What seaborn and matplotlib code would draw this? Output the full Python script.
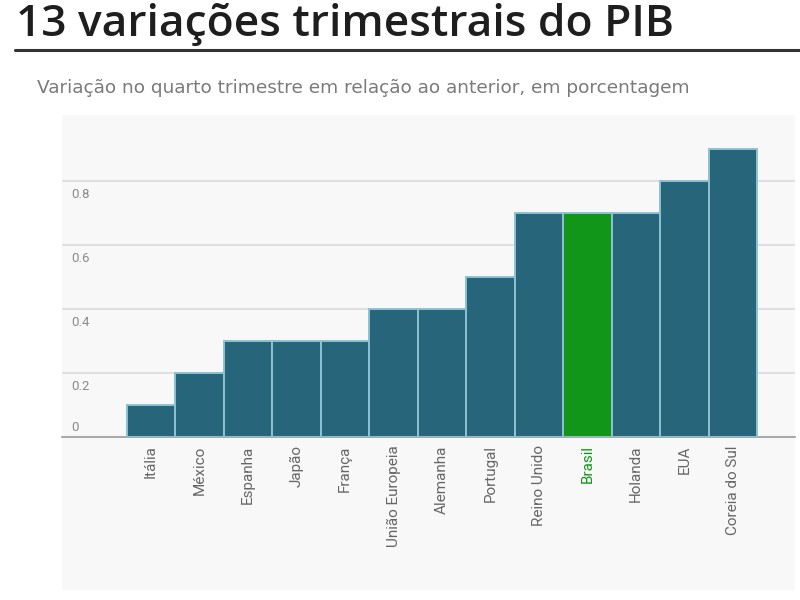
import matplotlib
matplotlib.use("Agg")
import matplotlib.pyplot as plt
import matplotlib.transforms as mtransforms
from matplotlib import font_manager
import seaborn as sns
import pandas as pd

paises = ["Itália", "México", "Espanha", "Japão", "França", "União Europeia",
          "Alemanha", "Portugal", "Reino Unido", "Brasil", "Holanda", "EUA",
          "Coreia do Sul"]
variacao = [0.1, 0.2, 0.3, 0.3, 0.3, 0.4, 0.4, 0.5, 0.7, 0.7, 0.7, 0.8, 0.9]
y_ticks = [0.2, 0.4, 0.6, 0.8]
y_tick_labels = ["0.2", "0.4", "0.6", "0.8"]
destaque = "Brasil"

titulo = "13 variações trimestrais do PIB"
subtitulo = "Variação no quarto trimestre em relação ao anterior, em porcentagem"

cor_barra = "#27657a"
cor_destaque = "#12961a"

nomes = {f.name for f in font_manager.fontManager.ttflist}
fonte_estreita = "Liberation Sans Narrow" if "Liberation Sans Narrow" in nomes else "Roboto"

sns.set_theme(style="white")
plt.rcParams["font.family"] = ["Open Sans", "DejaVu Sans"]

df = pd.DataFrame({"pais": paises, "valor": variacao})
cores = {p: (cor_destaque if p == destaque else cor_barra) for p in paises}

fig = plt.figure(figsize=(8, 6), dpi=100)
fig.patch.set_facecolor("white")

# light panel
panel = plt.Rectangle((62 / 800, 10 / 600), (795 - 62) / 800, (485 - 10) / 600,
                      transform=fig.transFigure, facecolor="#f8f8f8",
                      edgecolor="none", zorder=-5)
fig.patches.append(panel)

ax = fig.add_axes([62 / 800, 163 / 600, (795 - 62) / 800, (437 - 120) / 600])
ax.set_zorder(2)
ax.set_facecolor("#f8f8f8")
sns.barplot(data=df, x="pais", y="valor", hue="pais", palette=cores,
            saturation=1, width=1.0, edgecolor="#8cc2d2", linewidth=1.4,
            legend=False, ax=ax, zorder=3)

ax.set_xlim(-1.835, 13.28)
ax.set_ylim(0, 0.99)
ax.set_yticks(y_ticks)
ax.set_yticklabels([])
ax.tick_params(axis="y", length=0)
ax.grid(axis="y", color="#dcdcdc", linewidth=1.2, zorder=0)
ax.set_axisbelow(True)
for s in ["top", "right", "left"]:
    ax.spines[s].set_visible(False)
ax.spines["bottom"].set_color("#9a9a9a")
ax.spines["bottom"].set_linewidth(1.2)

trans = mtransforms.blended_transform_factory(ax.transAxes, ax.transData)
off = mtransforms.ScaledTranslation(0, -5 / 72, fig.dpi_scale_trans)
for v, lab in zip(y_ticks, y_tick_labels):
    ax.text(0.012, v, lab, transform=trans + off, ha="left", va="top",
            fontsize=9.5, color="#8a8a8a", family=fonte_estreita)
ax.text(0.012, 0.008, "0", transform=trans, ha="left", va="bottom",
        fontsize=9.5, color="#8a8a8a", family=fonte_estreita)

ax.set_xlabel("")
ax.set_ylabel("")
ax.tick_params(axis="x", length=0, pad=6)
ax.set_xticks(range(len(paises)))
ax.set_xticklabels(paises, rotation=90, fontsize=11, family=fonte_estreita,
                   color="#666666", va="top", ha="center")
for t in ax.get_xticklabels():
    if t.get_text() == destaque:
        t.set_color(cor_destaque)

fig.text(16 / 800, 1 - 24 / 600, titulo, fontsize=31.9, color="#1e1e1e",
         ha="left", va="center", weight="semibold",
         family=["Open Sans", "DejaVu Sans"])
fig.add_artist(plt.Line2D([15 / 800, 1.0], [1 - 50 / 600, 1 - 50 / 600],
                          transform=fig.transFigure, color="#333333",
                          linewidth=2.2))
fig.text(37 / 800, 1 - 88 / 600, subtitulo, fontsize=13.3, color="#7a7a7a",
         ha="left", va="center", family=["DejaVu Sans"])

fig.savefig("out.png", dpi=100, facecolor="white")
